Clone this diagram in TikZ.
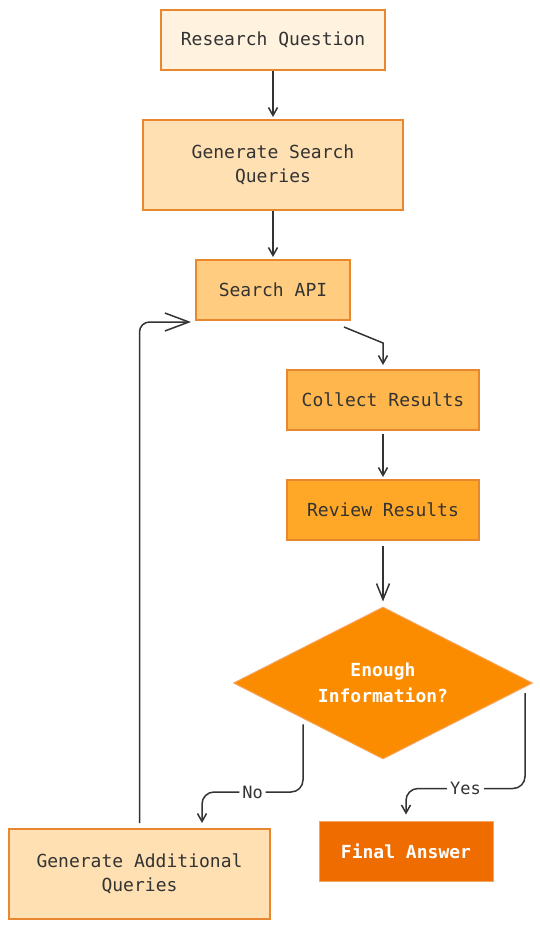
\documentclass[tikz,border=0pt]{standalone}
\usepackage{fontspec}
\setmonofont{DejaVu Sans Mono}
\usetikzlibrary{shapes.geometric,arrows.meta}

\definecolor{txt}{HTML}{333333}
\definecolor{edge}{HTML}{E8872E}
\definecolor{edgelight}{HTML}{F5A45C}
\definecolor{fillA}{HTML}{FFF2DF}
\definecolor{fillB}{HTML}{FFE0B2}
\definecolor{fillC}{HTML}{FFCC80}
\definecolor{fillD}{HTML}{FFB74D}
\definecolor{fillE}{HTML}{FFA726}
\definecolor{fillF}{HTML}{FB8C00}
\definecolor{fillG}{HTML}{EF6C00}

\begin{document}
\begin{tikzpicture}[x=1pt,y=-1pt,
		box/.style={draw=edge, line width=2pt, inner sep=2pt, align=center,
			text=txt, font=\ttfamily\fontsize{18}{24}\selectfont},
		arr/.style={-{Straight Barb[length=8pt,width=9pt]}, line width=1.5pt, draw=txt},
		lbl/.style={fill=white, inner sep=3pt, text=txt, font=\ttfamily\fontsize{17}{20}\selectfont}]
		\useasboundingbox (0,0) rectangle (540,929);
		
		% Etapas
		\node[box, fill=fillA, minimum width=224pt, minimum height=60pt] (rq)   at (273,40)  {Research Question};
		\node[box, fill=fillB, minimum width=260pt, minimum height=90pt] (gsq)  at (273,165) {Generate Search\\Queries};
		\node[box, fill=fillC, minimum width=154pt, minimum height=60pt] (sapi) at (273,290) {Search API};
		\node[box, fill=fillD, minimum width=192pt, minimum height=60pt] (cr)   at (383,400) {Collect Results};
		\node[box, fill=fillE, minimum width=192pt, minimum height=60pt] (rr)   at (383,510) {Review Results};
		
		% Decisão
		\node[box, shape=diamond, aspect=1.97, fill=fillF, draw=edgelight, line width=1pt, inner sep=0pt,
			minimum width=299pt, minimum height=152pt, text=white,
			font=\ttfamily\bfseries\fontsize{18}{26}\selectfont] (dec) at (383,683) {Enough\\Information?};
		
		\node[box, fill=fillG, draw=edgelight, line width=1pt, minimum width=174pt, minimum height=60pt,
			text=white, font=\ttfamily\bfseries\fontsize{18}{24}\selectfont] (fa) at (406,851) {Final Answer};
		\node[box, fill=fillB, minimum width=261pt, minimum height=90pt] (gaq) at (139.5,874) {Generate Additional\\Queries};
		
		% Setas
		\draw[arr, shorten >=2pt] (rq) -- (gsq);
		\draw[arr, shorten >=2pt] (gsq) -- (sapi);
		\draw[arr] ([xshift=-7pt,yshift=-6pt]sapi.south east) -- ([yshift=26pt]cr.north) -- ([yshift=4pt]cr.north);
		\draw[arr, shorten <=3pt, shorten >=2pt] (cr) -- (rr);
		\draw[-{Straight Barb[length=16pt,width=13pt]}, line width=1.5pt, draw=txt,
			shorten <=5pt, shorten >=5pt] (rr) -- (dec);
		
		\draw[arr, rounded corners=12pt] ([xshift=-5pt,yshift=-3pt]dec.south west)
			|- node[lbl, pos=0.75] {No} ([xshift=62.5pt,yshift=36pt]gaq.north)
			-- ([xshift=62.5pt,yshift=5pt]gaq.north);
		\draw[arr, rounded corners=12pt] ([xshift=-8pt,yshift=-10pt]dec.east)
			|- node[lbl, pos=0.75] {Yes} ([yshift=32pt]fa.north)
			-- ([yshift=6pt]fa.north);
		
		\draw[-{Straight Barb[length=24pt,width=18pt]}, line width=1.5pt, draw=txt, rounded corners=10pt]
			([yshift=5pt]gaq.north) |- ([xshift=-4pt,yshift=-1pt]sapi.south west);
	\end{tikzpicture}
\end{document}
